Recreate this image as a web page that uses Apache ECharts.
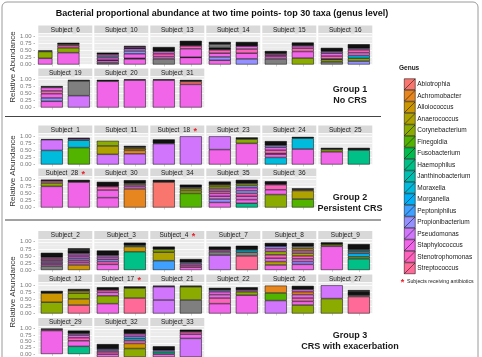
<!DOCTYPE html>
<html>
<head>
<meta charset="utf-8">
<script src="https://cdn.jsdelivr.net/npm/echarts@6/dist/echarts.min.js"></script>
<style>
html, body { margin: 0; padding: 0; background: #fff; }
#chart { width: 482px; height: 357px; }
</style>
</head>
<body>
<div id="chart"></div>
<script>
// genus legend, in ggplot hue order
const genera = ['Abiotrophia', 'Achromobacter', 'Alloiococcus', 'Anaerococcus', 'Corynebacterium',
  'Finegoldia', 'Fusobacterium', 'Haemophilus', 'Janthinobacterium', 'Moraxella', 'Morganella',
  'Peptoniphilus', 'Propionibacterium', 'Pseudomonas', 'Staphylococcus', 'Stenotrophomonas', 'Streptococcus']
const genusColors = ['#F8766D', '#E7851E', '#CC9600', '#ADA200', '#8BAB00', '#53B400', '#00BC4F',
  '#00C088', '#00C0B2', '#00BBDB', '#00B0F6', '#3FA0FF', '#9590FF', '#D176FC', '#F166E8', '#FF62BC', '#FF6A98']
// letter code per genus, X = other taxa (grey), Z = minor taxa (black)
const genusKeys = 'ABCDEFGHIJKLMNOPQ'
const otherColor = '#7F7F7F'
const minorColor = '#111111'

const antibiotics = ['Subject_18', 'Subject_28', 'Subject_4', 'Subject_17']
const yTicks = [0, 0.25, 0.5, 0.75, 1]

// each bar: segments from bottom to top, [genus code, relative abundance]
const group1Subjects = ['Subject_6', 'Subject_10', 'Subject_13', 'Subject_14', 'Subject_15', 'Subject_16',
  'Subject_19', 'Subject_20', 'Subject_31']
const group1Time1 = [
  [['O', .22], ['E', .24], ['Z', .04]],
  [['X', .06], ['O', .08], ['Z', .02], ['O', .08], ['M', .06], ['O', .06], ['Z', .06]],
  [['X', .2], ['O', .08], ['P', .1], ['O', .08], ['Z', .16]],
  [['O', .15], ['M', .12], ['O', .13], ['P', .12], ['Z', .08], ['X', .12], ['Z', .08]],
  [['X', .2], ['O', .08], ['P', .05], ['O', .05], ['Z', .1]],
  [['X', .1], ['E', .08], ['Z', .02], ['P', .1], ['O', .1], ['N', .06], ['Z', .13]],
  [['O', .22], ['M', .12], ['O', .15], ['P', .1], ['O', .12], ['Z', .05]],
  [['O', .93], ['Z', .05]],
  [['O', .97], ['Z', .03]]
]
const group1Time2 = [
  [['O', .42], ['E', .17], ['P', .08], ['A', .04], ['Z', .06]],
  [['O', .2], ['Z', .02], ['O', .16], ['M', .1], ['N', .08], ['Z', .03], ['O', .04], ['Z', .03]],
  [['O', .25], ['Z', .01], ['O', .3], ['P', .1], ['Z', .18]],
  [['M', .2], ['O', .2], ['P', .15], ['O', .1], ['Z', .15]],
  [['E', .23], ['O', .23], ['P', .12], ['O', .08], ['Z', .12]],
  [['M', .12], ['E', .1], ['J', .1], ['O', .1], ['P', .1], ['N', .05], ['Z', .15]],
  [['N', .42], ['X', .52], ['Z', .04]],
  [['O', .97], ['Z', .03]],
  [['O', .82], ['A', .1], ['Z', .06]]
]

const group2Subjects = ['Subject_1', 'Subject_11', 'Subject_18', 'Subject_23', 'Subject_24', 'Subject_25',
  'Subject_28', 'Subject_30', 'Subject_34', 'Subject_35', 'Subject_36']
const group2Time1 = [
  [['J', .5], ['N', .38], ['Z', .02]],
  [['N', .36], ['D', .3], ['E', .18]],
  [['N', .74], ['Z', .15]],
  [['O', .53], ['N', .47]],
  [['J', .25], ['O', .12], ['Z', .02], ['P', .12], ['O', .1], ['M', .07], ['Z', .15]],
  [['O', .45], ['E', .08], ['Z', .06]],
  [['O', .75], ['E', .12], ['P', .07], ['Z', .05]],
  [['O', .35], ['O', .27], ['P', .12], ['Z', .17]],
  [['A', .9], ['Z', .08]],
  [['O', .18], ['M', .12], ['O', .1], ['O', .1], ['P', .08], ['O', .08], ['E', .08], ['D', .06], ['Z', .12]],
  [['E', .46], ['O', .17], ['P', .18], ['Z', .12]]
]
const group2Time2 = [
  [['F', .6], ['J', .26], ['N', .05], ['Z', .04]],
  [['N', .38], ['B', .12], ['C', .06], ['D', .04], ['Z', .06]],
  [['N', 1.0]],
  [['O', .75], ['E', .15], ['Z', .06]],
  [['O', .55], ['J', .38], ['Z', .05]],
  [['H', .51], ['Z', .08]],
  [['O', .9], ['Z', .08]],
  [['B', .66], ['O', .08], ['N', .06], ['D', .05], ['Z', .12]],
  [['F', .5], ['E', .1], ['D', .07], ['M', .04], ['Z', .1]],
  [['H', .15], ['O', .13], ['O', .12], ['P', .1], ['M', .1], ['O', .1], ['M', .08], ['E', .07], ['Z', .13]],
  [['F', .3], ['D', .3], ['O', .03], ['Z', .05]]
]

const group3Subjects = ['Subject_2', 'Subject_3', 'Subject_4', 'Subject_7', 'Subject_8', 'Subject_9',
  'Subject_12', 'Subject_17', 'Subject_21', 'Subject_22', 'Subject_26', 'Subject_27',
  'Subject_29', 'Subject_32', 'Subject_33']
const group3Time1 = [
  [['X', .14], ['O', .06], ['P', .05], ['M', .05], ['O', .05], ['P', .05], ['O', .05], ['Z', .16]],
  [['O', .2], ['P', .1], ['M', .08], ['O', .08], ['N', .06], ['Z', .17]],
  [['L', .33], ['D', .3], ['E', .1], ['Z', .1]],
  [['N', .53], ['X', .12], ['O', .06], ['Z', .12]],
  [['O', .18], ['D', .12], ['O', .12], ['P', .12], ['E', .12], ['O', .1], ['M', .08], ['Z', .12]],
  [['O', .84], ['E', .06], ['Z', .08]],
  [['E', .4], ['C', .32], ['Z', .08]],
  [['O', .35], ['E', .28], ['O', .12], ['P', .08], ['Z', .1]],
  [['N', .48], ['N', .47], ['Z', .04]],
  [['O', .35], ['P', .2], ['O', .12], ['O', .1], ['M', .06], ['Z', .08]],
  [['N', .46], ['F', .27], ['B', .26]],
  [['E', .53], ['N', .47]],
  [['O', .92], ['P', .04], ['Z', .04]],
  [['O', .1], ['P', .08], ['N', .05], ['M', .05], ['Z', .18]],
  [['O', .1], ['H', .08], ['M', .06], ['Z', .14]]
]
const group3Time2 = [
  [['C', .18], ['O', .08], ['P', .07], ['M', .07], ['O', .07], ['N', .06], ['O', .06], ['Z', .12], ['Z', .06]],
  [['H', .65], ['C', .18], ['J', .04], ['Z', .1]],
  [['O', .1], ['P', .06], ['O', .06], ['M', .05], ['Z', .12]],
  [['Q', .5], ['X', .13], ['J', .08], ['Z', .15]],
  [['O', .2], ['M', .1], ['O', .1], ['P', .1], ['D', .1], ['O', .08], ['C', .08], ['X', .08], ['Z', .12]],
  [['H', .4], ['E', .07], ['K', .12], ['X', .08], ['J', .05], ['Z', .2]],
  [['Q', .3], ['C', .22], ['E', .2], ['D', .08], ['Z', .07]],
  [['Q', .55], ['E', .35], ['Z', .06]],
  [['X', .48], ['E', .47], ['Z', .04]],
  [['O', .65], ['E', .12], ['O', .06], ['Z', .1]],
  [['E', .3], ['O', .13], ['P', .12], ['O', .12], ['B', .1], ['O', .08], ['Z', .13]],
  [['Q', .6], ['X', .05], ['Z', .12], ['Z', .06]],
  [['H', .3], ['O', .22], ['P', .12], ['O', .1], ['N', .06], ['Z', .12]],
  [['E', .3], ['C', .18], ['P', .1], ['J', .08], ['M', .08], ['O', .08], ['Z', .16]],
  [['N', .66], ['O', .15], ['P', .08], ['Z', .08]]
]

const groups = [
  { subjects: group1Subjects, t1: group1Time1, t2: group1Time2, rowTops: [25.5, 68.5], label: ['Group 1', 'No CRS'], labelY: 90, axisY: 67 },
  { subjects: group2Subjects, t1: group2Time1, t2: group2Time2, rowTops: [125.5, 168.5], label: ['Group 2', 'Persistent CRS'], labelY: 197.5, axisY: 171 },
  { subjects: group3Subjects, t1: group3Time1, t2: group3Time2, rowTops: [231, 274.5, 318], label: ['Group 3', 'CRS with exacerbation'], labelY: 335.5, axisY: 292 }
]

const font = 'Liberation Sans, Arial, sans-serif'

function colorOf(code) {
  if (code === 'X') return otherColor
  if (code === 'Z') return minorColor
  return genusColors[genusKeys.indexOf(code)]
}

const grids = []
const xAxes = []
const yAxes = []
const series = []
const graphics = []

groups.forEach(grp => {
  grp.subjects.forEach((name, i) => {
    const row = Math.floor(i / 6)
    const col = i % 6
    const left = 38.3 + 56 * col
    const top = grp.rowTops[row]
    const k = grids.length

    grids.push({ left, top: top + 8, width: 54, height: 31, show: true, backgroundColor: '#EBEBEB', borderWidth: 0 })
    xAxes.push({
      gridIndex: k, type: 'category', data: ['T1', 'T2'],
      axisLine: { show: false }, axisLabel: { show: false },
      axisTick: { show: true, alignWithLabel: true, length: 2, lineStyle: { color: '#B0B0B0', width: 0.6 } },
      splitLine: { show: false }
    })
    yAxes.push({
      gridIndex: k, type: 'value', min: 0, max: 1.1, interval: 0.25,
      axisLine: { show: false }, axisTick: { show: false },
      axisLabel: {
        show: col === 0, showMaxLabel: false, fontSize: 6, color: '#7A7A7A', fontFamily: font,
        margin: 3, padding: [0, 0, 9, 0],
        formatter: v => (yTicks.indexOf(v) >= 0 ? v.toFixed(2) + ' -' : '')
      },
      splitLine: { lineStyle: { color: '#FFFFFF', width: 0.8 } },
      minorTick: { show: false, splitNumber: 2 },
      minorSplitLine: { show: true, lineStyle: { color: '#F4F4F4', width: 0.5 } }
    })

    const bars = [grp.t1[i], grp.t2[i]]
    const layers = Math.max(bars[0].length, bars[1].length)
    for (let l = 0; l < layers; l++) {
      series.push({
        type: 'bar', xAxisIndex: k, yAxisIndex: k, stack: 'p' + k, barWidth: 22,
        silent: true, animation: false,
        itemStyle: { borderColor: '#000', borderWidth: 0.5 },
        data: bars.map(b => (b[l] ? { value: b[l][1], itemStyle: { color: colorOf(b[l][0]) } } : '-'))
      })
    }

    // facet strip
    graphics.push({ type: 'rect', shape: { x: left, y: top, width: 54, height: 8 }, style: { fill: '#D9D9D9' }, silent: true })
    const star = antibiotics.indexOf(name) >= 0
    graphics.push({
      type: 'text', x: left + 27, y: top + 4.3, silent: true,
      style: {
        text: star ? '{n|' + name + '} {s|*}' : '{n|' + name + '}',
        textAlign: 'center', textVerticalAlign: 'middle',
        rich: {
          n: { fontSize: 6.5, fill: '#1A1A1A', fontFamily: font },
          s: { fontSize: 9, fill: '#E8202A', fontWeight: 'bold', fontFamily: font, padding: [3, 0, 0, 0] }
        }
      }
    })
  })

  graphics.push({
    type: 'text', x: 12.5, y: grp.axisY, rotation: Math.PI / 2, silent: true,
    style: { text: 'Relative Abundance', fontSize: 8, fill: '#333', fontFamily: font, textAlign: 'center', textVerticalAlign: 'middle' }
  })
  grp.label.forEach((t, j) => {
    graphics.push({
      type: 'text', x: 350, y: grp.labelY + j * 11, silent: true,
      style: { text: t, fontSize: 9, fontWeight: 'bold', fill: '#1A1A1A', fontFamily: font, textAlign: 'center', textVerticalAlign: 'middle' }
    })
  })
})

// dummy series so the legend lists the genera
genera.forEach((g, i) => {
  series.push({ name: g, type: 'bar', xAxisIndex: 0, yAxisIndex: 0, data: [], itemStyle: { color: genusColors[i] } })
})

// frame, separators, title, notes
graphics.push(
  { type: 'rect', shape: { x: 2, y: 2, width: 476, height: 400, r: 5 }, style: { fill: 'none', stroke: '#9A9A9A', lineWidth: 1 }, silent: true },
  { type: 'line', shape: { x1: 5, y1: 116.5, x2: 381, y2: 116.5 }, style: { stroke: '#444', lineWidth: 1.2 }, silent: true },
  { type: 'line', shape: { x1: 5, y1: 220, x2: 381, y2: 220 }, style: { stroke: '#444', lineWidth: 1.2 }, silent: true },
  {
    type: 'text', x: 222, y: 13.5, silent: true,
    style: { text: 'Bacterial proportional abundance at two time points- top 30 taxa (genus level)', fontSize: 9, fontWeight: 'bold', fill: '#111', fontFamily: font, textAlign: 'center', textVerticalAlign: 'middle' }
  },
  {
    type: 'text', x: 399, y: 68, silent: true,
    style: { text: 'Genus', fontSize: 6.5, fontWeight: 'bold', fill: '#1A1A1A', fontFamily: font, textVerticalAlign: 'middle' }
  },
  {
    type: 'text', x: 402.5, y: 283, silent: true,
    style: { text: '*', fontSize: 9, fontWeight: 'bold', fill: '#E8202A', fontFamily: font, textAlign: 'center', textVerticalAlign: 'middle' }
  },
  {
    type: 'text', x: 407, y: 281.5, silent: true,
    style: { text: 'Subjects receiving antibiotics', fontSize: 5.2, fill: '#1A1A1A', fontFamily: font, textVerticalAlign: 'middle' }
  }
)

const chart = echarts.init(document.getElementById('chart'), null, { renderer: 'canvas' })
chart.setOption({
  animation: false,
  grid: grids,
  xAxis: xAxes,
  yAxis: yAxes,
  series,
  legend: {
    data: genera, orient: 'vertical', left: 399, top: 73.5,
    itemWidth: 11, itemHeight: 11, itemGap: 0, selectedMode: false,
    icon: 'path://M0,0L10,0L10,10L0,10Z M0,10L10,0',
    itemStyle: { borderColor: '#000', borderWidth: 0.5 },
    textStyle: { fontSize: 6.5, color: '#1A1A1A', fontFamily: font, padding: [0, 0, 0, -3] }
  },
  graphic: graphics
})
</script>
</body>
</html>
